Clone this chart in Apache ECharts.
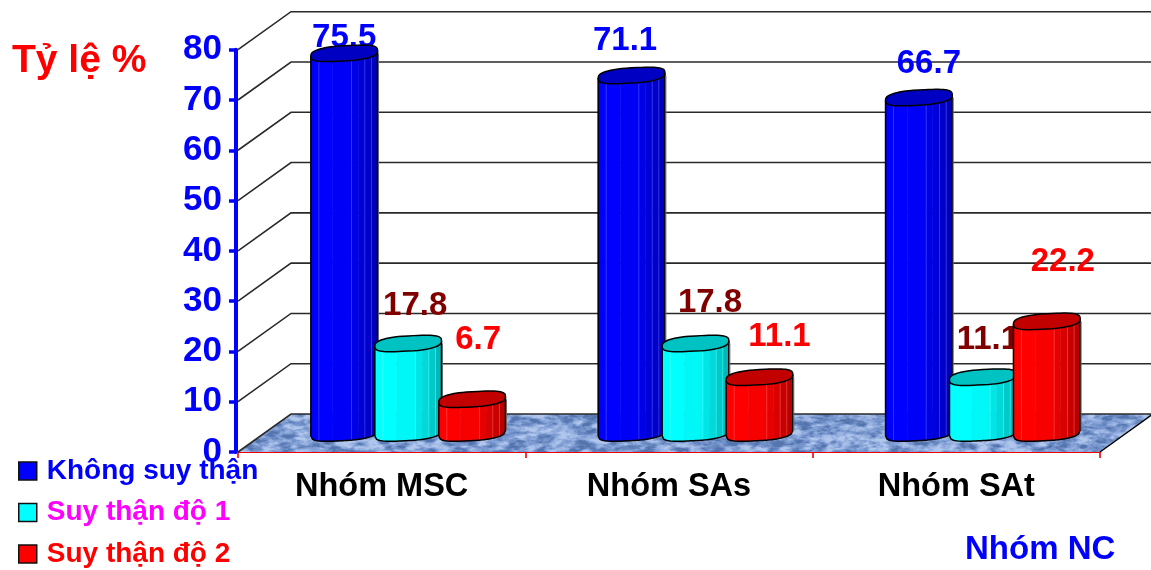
<!DOCTYPE html>
<html>
<head>
<meta charset="utf-8">
<style>html,body{margin:0;padding:0;background:#fff}#chart{width:1151px;height:570px}</style>
<script src="https://cdn.jsdelivr.net/npm/echarts@6/dist/echarts.min.js"></script>
</head>
<body>
<div id="chart"></div>
<script>
// Renal function by study group
const categories = ['Nhóm MSC', 'Nhóm SAs', 'Nhóm SAt'];
const seriesNames = ['Không suy thận', 'Suy thận độ 1', 'Suy thận độ 2'];
const khongSuyThan = [75.5, 71.1, 66.7];
const suyThanDo1 = [17.8, 17.8, 11.1];
const suyThanDo2 = [6.7, 11.1, 22.2];
const yTicks = [0, 10, 20, 30, 40, 50, 60, 70, 80];

// Cylinder colours: [r, g, b] of the lit side
const barRGB = [[0, 0, 255], [0, 255, 255], [255, 0, 0]];
const legendTextColors = ['#0000ff', '#ff00ff', '#ff0000'];
const labelColors = ['#0000ff', '#800000', '#ff0000'];

// Where each value label sits relative to the top of its cylinder
const labelShift = [
  [[0, -15], [-6.5, -35], [10, -33.5]],
  [[7, -38], [14.5, -41], [5, -37]],
  [[6, -59], [20, -40], [16, -59]]
];

// Oblique projection of the box
const DEPTH_X = 53, DEPTH_Y = 38;
// Facet edges across a cylinder, shade of each facet, and which edges catch the light
const facetEdges = [0, 0.12, 0.33, 0.61, 0.71, 0.81, 0.91, 1];
const facetShade = [1, 1, 0.97, 0.9, 0.85, 0.79, 0.72];
const facetGlints = [0.12, 0.61, 0.81, 0.91];

function shade(rgb, k) {
  return 'rgb(' + rgb.map(c => Math.round(c * k)).join(',') + ')';
}
function glint(rgb) {
  return 'rgb(' + rgb.map(c => Math.round(c * 0.85 + 80)).join(',') + ')';
}

// Granite-like fill for the floor
function floorTexture() {
  const W = 1200, H = 480;
  const cv = document.createElement('canvas');
  cv.width = W; cv.height = H;
  const ctx = cv.getContext('2d');
  const img = ctx.createImageData(W, H);
  const hash = (x, y) => {
    let h = (x * 374761393 + y * 668265263) | 0;
    h = Math.imul(h ^ (h >>> 13), 1274126177);
    return ((h ^ (h >>> 16)) >>> 0) / 4294967295;
  };
  const noise = (x, y) => {
    const xi = Math.floor(x), yi = Math.floor(y);
    let fx = x - xi, fy = y - yi;
    fx = fx * fx * (3 - 2 * fx); fy = fy * fy * (3 - 2 * fy);
    const a = hash(xi, yi), b = hash(xi + 1, yi), c = hash(xi, yi + 1), d = hash(xi + 1, yi + 1);
    return a + (b - a) * fx + (c - a) * fy + (a - b - c + d) * fx * fy;
  };
  const dark = [84, 116, 174], mid = [128, 158, 212], light = [176, 198, 236];
  for (let y = 0; y < H; y++) {
    for (let x = 0; x < W; x++) {
      const u = x + y * 0.9, v = y * 1.5 - x * 0.25;
      let n = 0.55 * noise(u / 11, v / 7) + 0.3 * noise(u / 5, v / 3.2) + 0.15 * noise(u / 2, v / 1.6);
      n = Math.min(1, Math.max(0, (n - 0.5) * 2.2 + 0.5));
      const p = n < 0.5 ? dark : mid, q = n < 0.5 ? mid : light, t = n < 0.5 ? n * 2 : n * 2 - 1;
      const i = (y * W + x) * 4;
      img.data[i] = p[0] + (q[0] - p[0]) * t;
      img.data[i + 1] = p[1] + (q[1] - p[1]) * t;
      img.data[i + 2] = p[2] + (q[2] - p[2]) * t;
      img.data[i + 3] = 255;
    }
  }
  ctx.putImageData(img, 0, 0);
  return cv;
}
const floorFill = { image: floorTexture(), repeat: 'repeat' };

// Back wall, side wall and floor; one datum per value tick
function renderWall(params, api) {
  const rect = params.coordSys;
  const y = api.coord([0, api.value(1)])[1];
  const x0 = rect.x, x1 = rect.x + rect.width;
  const children = [];
  if (api.value(1) === 0) {
    children.push({
      type: 'polygon',
      shape: { points: [[x0, y], [x1, y], [x1 + DEPTH_X, y - DEPTH_Y], [x0 + DEPTH_X, y - DEPTH_Y]] },
      style: { fill: floorFill, stroke: 'none' }
    });
    children.push({
      type: 'line',
      shape: { x1: x1, y1: y, x2: x1 + DEPTH_X, y2: y - DEPTH_Y },
      style: { stroke: '#000', lineWidth: 1.5 }
    });
  }
  children.push({
    type: 'polyline',
    shape: { points: [[x0, y], [x0 + DEPTH_X, y - DEPTH_Y], [x1 + DEPTH_X, y - DEPTH_Y]] },
    style: { fill: 'none', stroke: '#2a2a2a', lineWidth: 1.6 }
  });
  return { type: 'group', children: children };
}

// One faceted cylinder per datum, with its value label behind it
function cylinderRenderer(seriesIndex) {
  const rgb = barRGB[seriesIndex];
  return function (params, api) {
    const cat = api.value(0), val = api.value(1);
    const band = api.size([1, 0])[0];
    const front = api.coord([cat, 0]);
    const cx = front[0] + DEPTH_X / 2 + (seriesIndex - 1) * band * 0.2226;
    const yBase = front[1] - DEPTH_Y / 2;
    const yTop = api.coord([cat, val])[1] - DEPTH_Y / 2;
    const a = band * 0.116, b = 7.6, skew = 2.8;

    const rim = (cy, c, below) => {
      const s = Math.sqrt(Math.max(0, 1 - c * c));
      const sx = Math.sign(c) * Math.pow(Math.abs(c), 0.78);
      const sy = Math.pow(s, 0.7);
      return [cx + a * sx, cy + (below ? b : -b) * sy - skew * c];
    };
    const fracToC = f => {
      const u = 2 * f - 1;
      return Math.sign(u) * Math.pow(Math.abs(u), 1 / 0.78);
    };
    const frontArc = (cy, f0, f1, n) => {
      const pts = [];
      for (let i = 0; i <= n; i++) pts.push(rim(cy, fracToC(f0 + (f1 - f0) * i / n), true));
      return pts;
    };

    const children = [];
    const shift = labelShift[seriesIndex][cat];
    children.push({
      type: 'text',
      style: {
        text: val.toFixed(1), x: cx + shift[0], y: yTop + shift[1],
        fill: labelColors[seriesIndex], font: 'bold 33px "Liberation Sans", Arial, sans-serif',
        align: 'center', verticalAlign: 'middle'
      }
    });
    // Facets
    for (let i = 0; i < facetShade.length; i++) {
      const topArc = frontArc(yTop, facetEdges[i], facetEdges[i + 1], 6);
      const botArc = frontArc(yBase, facetEdges[i], facetEdges[i + 1], 6).reverse();
      children.push({
        type: 'polygon',
        shape: { points: topArc.concat(botArc) },
        style: { fill: shade(rgb, facetShade[i]), stroke: shade(rgb, facetShade[i]), lineWidth: 0.5 }
      });
    }
    facetGlints.forEach(f => {
      const t = rim(yTop, fracToC(f), true), u = rim(yBase, fracToC(f), true);
      children.push({
        type: 'line',
        shape: { x1: t[0], y1: t[1], x2: u[0], y2: u[1] },
        style: { stroke: glint(rgb), lineWidth: 0.8, opacity: 0.7 }
      });
    });
    // Outline of the body
    const outline = frontArc(yBase, 0, 1, 40);
    children.push({
      type: 'polyline',
      shape: { points: [rim(yTop, -1, true)].concat(outline, [rim(yTop, 1, true)]) },
      style: { fill: 'none', stroke: '#000', lineWidth: 1.5 }
    });
    children.push({
      type: 'line',
      shape: { x1: cx + a + 1, y1: yTop, x2: cx + a + 1, y2: yBase - skew },
      style: { stroke: '#666', lineWidth: 1 }
    });
    // Top cap
    const cap = [];
    for (let i = 0; i < 60; i++) {
      const t = i / 60 * Math.PI * 2;
      cap.push(rim(yTop, Math.cos(t), Math.sin(t) >= 0));
    }
    children.push({
      type: 'polygon',
      shape: { points: cap },
      style: { fill: shade(rgb, 0.76), stroke: '#000', lineWidth: 1.5 }
    });
    return { type: 'group', children: children };
  };
}

const textFont = '"Liberation Sans", Arial, sans-serif';
const chart = echarts.init(document.getElementById('chart'), null, { renderer: 'canvas' });
const pairs = values => values.map((v, i) => [i, v]);

chart.setOption({
  animation: false,
  backgroundColor: '#fff',
  grid: { left: 238, top: 49.7, width: 862, height: 402.3 },
  title: [
    { text: 'Tỷ lệ %', left: 12, top: 42, padding: 0, textStyle: { color: '#ff0000', fontFamily: textFont, fontWeight: 'bold', fontSize: 39 } },
    { text: 'Nhóm NC', left: 965, top: 533, padding: 0, textStyle: { color: '#0000ff', fontFamily: textFont, fontWeight: 'bold', fontSize: 33 } }
  ],
  legend: {
    orient: 'vertical', left: 18, top: 456, height: 140, padding: 0, itemWidth: 18, itemHeight: 18, itemGap: 11.5, icon: 'rect',
    selectedMode: false,
    textStyle: { fontFamily: textFont, fontWeight: 'bold', fontSize: 28, padding: [2, 0, 0, 5], lineHeight: 28, height: 28 },
    data: seriesNames.map((n, i) => ({
      name: n,
      itemStyle: { color: shade(barRGB[i], 1), borderColor: '#111', borderWidth: 1.5 },
      textStyle: { color: legendTextColors[i] }
    }))
  },
  xAxis: {
    type: 'category', data: categories,
    axisLine: { lineStyle: { color: '#f00000', width: 2 } },
    axisTick: { show: true, length: 6, lineStyle: { color: '#f00000', width: 1.6 } },
    axisLabel: { color: '#000', fontFamily: textFont, fontWeight: 'bold', fontSize: 32.5, margin: 19 }
  },
  yAxis: {
    type: 'value', min: 0, max: 80, interval: 10, offset: 2,
    splitLine: { show: false },
    axisLine: { show: true, lineStyle: { color: '#0000ff', width: 4 } },
    axisTick: { show: true, length: 7, lineStyle: { color: '#0000ff', width: 3.5 } },
    axisLabel: { color: '#0000ff', fontFamily: textFont, fontWeight: 'bold', fontSize: 35, margin: 14 }
  },
  series: [
    { type: 'custom', name: 'walls', z: 1, silent: true, renderItem: renderWall, data: yTicks.map(v => [0, v]), encode: { x: 0, y: 1 } },
    { type: 'custom', name: seriesNames[0], z: 3, silent: true, renderItem: cylinderRenderer(0), data: pairs(khongSuyThan), encode: { x: 0, y: 1 } },
    { type: 'custom', name: seriesNames[1], z: 4, silent: true, renderItem: cylinderRenderer(1), data: pairs(suyThanDo1), encode: { x: 0, y: 1 } },
    { type: 'custom', name: seriesNames[2], z: 5, silent: true, renderItem: cylinderRenderer(2), data: pairs(suyThanDo2), encode: { x: 0, y: 1 } }
  ]
});
</script>
</body>
</html>
